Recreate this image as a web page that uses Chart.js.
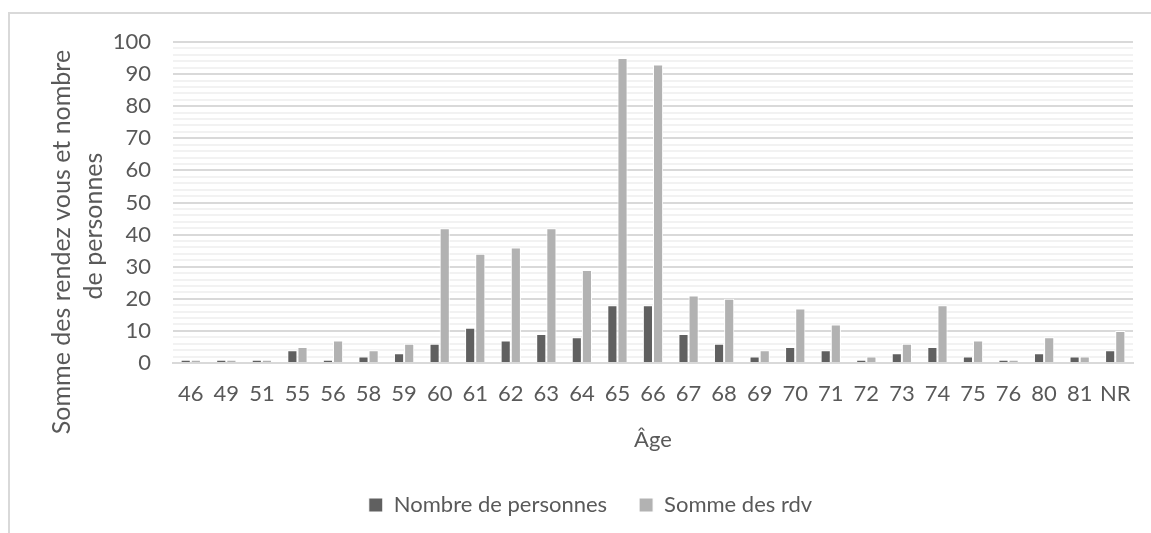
<!DOCTYPE html>
<html lang="fr">
<head>
<meta charset="utf-8">
<title>Rendez-vous par âge</title>
<script src="https://cdn.jsdelivr.net/npm/chart.js@4.4.1/dist/chart.umd.min.js"></script>
<style>
  html, body { margin: 0; padding: 0; background: #fff; }
  #wrap { position: relative; width: 1151px; height: 533px; overflow: hidden; }
  #frame {
    position: absolute; left: 8px; top: 12px; width: 1300px; height: 700px;
    border-left: 2px solid #d9d9d9; border-top: 2px solid #d9d9d9;
  }
  #chart { position: absolute; left: 0; top: 0; }
</style>
</head>
<body>
<div id="wrap">
  <div id="frame"></div>
  <canvas id="chart" width="1151" height="533"></canvas>
</div>
<script>
const ages = ["46", "49", "51", "55", "56", "58", "59", "60", "61", "62", "63", "64", "65", "66",
              "67", "68", "69", "70", "71", "72", "73", "74", "75", "76", "80", "81", "NR"];
const nbPersonnes = [1, 1, 1, 4, 1, 2, 3, 6, 11, 7, 9, 8, 18, 18, 9, 6, 2, 5, 4, 1, 3, 5, 2, 1, 3, 2, 4];
const sommeRdv = [1, 1, 1, 5, 7, 4, 6, 42, 34, 36, 42, 29, 95, 93, 21, 20, 4, 17, 12, 2, 6, 18, 7, 1, 8, 2, 10];
const seriesNames = ["Nombre de personnes", "Somme des rdv"];
const xTitle = "Âge";
const yTitle = ["Somme des rendez vous et nombre", "de personnes"];

const TEXT = "#595959";
const FONT = "Lato";

// vertical axis title: each line gets its own baseline x and centre y
const yTitleLines = [
    { x: 70, y: 242 },
    { x: 102, y: 226 }
];

const yTitlePlugin = {
    id: "yTitle",
    afterDraw(chart) {
        const ctx = chart.ctx;
        ctx.save();
        ctx.font = "25px " + FONT;
        ctx.fillStyle = TEXT;
        ctx.textAlign = "center";
        ctx.textBaseline = "alphabetic";
        yTitle.forEach((line, i) => {
            const p = yTitleLines[i];
            ctx.save();
            ctx.translate(p.x, p.y);
            ctx.rotate(-Math.PI / 2);
            ctx.fillText(line, 0, 0);
            ctx.restore();
        });
        ctx.restore();
    }
};

function draw() {
    new Chart(document.getElementById("chart"), {
        type: "bar",
        data: {
            labels: ages,
            datasets: [
                {
                    label: seriesNames[0],
                    data: nbPersonnes,
                    backgroundColor: "#606060",
                    borderColor: "#ffffff",
                    borderWidth: 1
                },
                {
                    label: seriesNames[1],
                    data: sommeRdv,
                    backgroundColor: "#b2b2b2",
                    borderColor: "#ffffff",
                    borderWidth: 1
                }
            ]
        },
        options: {
            responsive: false,
            animation: false,
            devicePixelRatio: 1,
            layout: { padding: { left: 48, right: 18, top: 42, bottom: 7 } },
            datasets: {
                bar: { categoryPercentage: 0.57, barPercentage: 1 }
            },
            plugins: {
                tooltip: { enabled: false },
                legend: {
                    position: "bottom",
                    labels: {
                        boxWidth: 14,
                        boxHeight: 14,
                        padding: 32,
                        color: TEXT,
                        font: { family: FONT, size: 22 }
                    }
                }
            },
            scales: {
                x: {
                    grid: { display: false, drawTicks: false },
                    border: { display: true, color: "#d9d9d9", width: 2 },
                    ticks: {
                        padding: 18,
                        autoSkip: false,
                        maxRotation: 0,
                        color: TEXT,
                        font: { family: FONT, size: 22 }
                    },
                    title: {
                        display: true,
                        text: xTitle,
                        color: TEXT,
                        font: { family: FONT, size: 22 },
                        padding: { top: 0, bottom: 9 }
                    },
                    afterFit: s => { s.height = 99; }
                },
                y: {
                    min: 0,
                    max: 100,
                    border: { display: false },
                    grid: {
                        drawTicks: false,
                        lineWidth: 2,
                        color: c => (c.tick && c.tick.value % 10 === 0) ? "#d9d9d9" : "#f2f2f2"
                    },
                    ticks: {
                        stepSize: 2,
                        autoSkip: false,
                        padding: 22,
                        color: TEXT,
                        font: { family: FONT, size: 22 },
                        callback: v => (v % 10 === 0 ? v : "")
                    },
                    afterFit: s => { s.width = 125; }
                }
            }
        },
        plugins: [yTitlePlugin]
    });
}

document.fonts.load("22px " + FONT).then(draw, draw);
</script>
</body>
</html>
